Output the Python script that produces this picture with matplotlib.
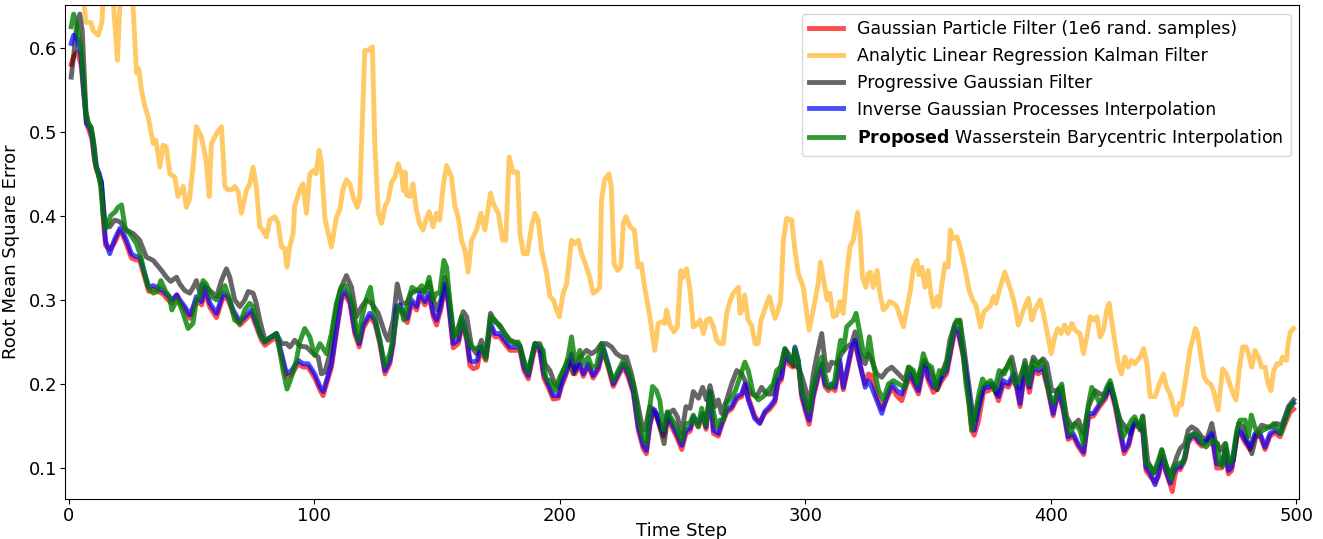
import numpy as np
import matplotlib
matplotlib.use("Agg")
import matplotlib.pyplot as plt

# values as (time step, RMSE) key points
gpf = [(1, 0.58), (2, 0.59), (3.5, 0.595), (5, 0.58), (6, 0.55), (7.2, 0.51), (8.5, 0.5), (9.5, 0.49),
       (10.5, 0.465), (11.3, 0.455), (12.5, 0.445), (13.3, 0.435), (14.2, 0.39), (15, 0.365), (16.7, 0.36),
       (18.7, 0.368), (20.8, 0.382), (22, 0.377), (23.5, 0.366), (25.5, 0.35), (27, 0.348), (28.9, 0.347),
       (31, 0.326), (32.6, 0.31), (34.4, 0.313), (36.4, 0.31), (38.4, 0.307), (40.4, 0.3), (42.1, 0.296),
       (44, 0.306), (45.2, 0.298), (47.3, 0.288), (49.3, 0.278), (50.7, 0.288), (52, 0.3), (54.1, 0.294),
       (55.4, 0.31), (57.5, 0.291), (60.2, 0.279), (62.9, 0.304), (64.9, 0.3), (67, 0.284), (69.7, 0.27),
       (71.7, 0.276), (74.4, 0.284), (76.4, 0.268), (78.5, 0.252), (79.9, 0.246), (82.6, 0.252), (84.6, 0.256),
       (86.7, 0.232), (88.7, 0.208), (90.7, 0.211), (93.5, 0.224), (95.5, 0.22), (97.5, 0.22), (100.2, 0.207),
       (102.3, 0.193), (103.6, 0.186), (105, 0.2), (107, 0.22), (109, 0.26), (111.1, 0.3), (112.4, 0.307),
       (114.5, 0.296), (116.5, 0.26), (118.3, 0.244), (119.9, 0.266), (122.6, 0.28), (124.7, 0.272),
       (126.7, 0.248), (128.8, 0.212), (130.8, 0.224), (132.2, 0.248), (133.5, 0.288), (134.9, 0.29),
       (136.2, 0.282), (137.9, 0.273), (139.6, 0.296), (141.7, 0.288), (143, 0.304), (145.1, 0.294),
       (146.8, 0.304), (148.5, 0.28), (149.8, 0.27), (151.5, 0.288), (153.2, 0.315), (154.6, 0.296),
       (156.6, 0.243), (158.7, 0.248), (160.4, 0.272), (162.1, 0.252), (163.4, 0.222), (164.8, 0.218),
       (166.4, 0.22), (167.7, 0.24), (169.9, 0.228), (171.8, 0.268), (173.6, 0.256), (175.6, 0.256),
       (177.6, 0.248), (179.7, 0.24), (181.7, 0.24), (183.8, 0.24), (185.4, 0.216), (187.2, 0.206),
       (189.9, 0.244), (191.9, 0.238), (193.5, 0.207), (195.3, 0.196), (197.3, 0.182), (199.4, 0.183),
       (200.7, 0.197), (202.8, 0.213), (204.8, 0.234), (206.2, 0.212), (208.2, 0.222), (209.6, 0.209),
       (211.6, 0.222), (213.6, 0.207), (215.7, 0.217), (217.7, 0.24), (219.7, 0.22), (221.8, 0.197),
       (223.8, 0.209), (225.9, 0.221), (227.9, 0.208), (230, 0.188), (232, 0.145), (234, 0.123),
       (235.3, 0.117), (236.7, 0.15), (238, 0.166), (239.4, 0.162), (240.8, 0.149), (242.3, 0.138),
       (243.8, 0.161), (245.6, 0.149), (247.6, 0.137), (249.7, 0.122), (251.4, 0.141), (253.1, 0.144),
       (254.4, 0.158), (256.5, 0.149), (258.2, 0.162), (259.6, 0.146), (261.2, 0.188), (262.6, 0.141),
       (264.6, 0.138), (265.9, 0.15), (268, 0.166), (270, 0.17), (272.1, 0.182), (274.1, 0.185), (275.4, 0.197),
       (276.8, 0.184), (279.4, 0.162), (281.5, 0.154), (283.5, 0.165), (285.5, 0.17), (287.6, 0.178),
       (288.9, 0.2), (290.3, 0.205), (292, 0.236), (293.2, 0.224), (294.9, 0.22), (295.8, 0.24), (297.2, 0.224),
       (298.5, 0.185), (300.3, 0.165), (301.6, 0.152), (303.3, 0.184), (305.3, 0.208), (306.7, 0.22),
       (308, 0.197), (309.4, 0.192), (310.7, 0.196), (312.1, 0.192), (314.1, 0.224), (315.5, 0.193),
       (316.9, 0.212), (318.9, 0.24), (320.3, 0.248), (322.3, 0.222), (324.4, 0.2), (325.7, 0.212),
       (327.1, 0.21), (329.1, 0.186), (331.2, 0.17), (333.2, 0.182), (335.2, 0.196), (337.3, 0.186),
       (339.3, 0.18), (341.4, 0.2), (342.7, 0.208), (344.1, 0.2), (346.1, 0.188), (347.4, 0.208),
       (348.8, 0.22), (350.1, 0.204), (352.2, 0.19), (354.2, 0.196), (355.6, 0.204), (357.6, 0.212),
       (358.9, 0.232), (361, 0.264), (362.3, 0.26), (364.4, 0.232), (366.4, 0.186), (367.8, 0.145),
       (368.8, 0.139), (370.5, 0.155), (372.6, 0.19), (374.6, 0.192), (376.7, 0.196), (378.7, 0.18),
       (380.7, 0.2), (382.7, 0.196), (384.8, 0.208), (386.3, 0.192), (387.5, 0.173), (389.5, 0.215),
       (391.3, 0.19), (392.9, 0.215), (394.9, 0.212), (396.9, 0.216), (398.9, 0.192), (401, 0.162),
       (403, 0.19), (405, 0.17), (407.1, 0.134), (409.1, 0.138), (411.1, 0.126), (413.4, 0.116), (415.4, 0.16),
       (417.4, 0.162), (420.1, 0.174), (422.2, 0.182), (424.2, 0.196), (426.3, 0.172), (428.3, 0.14),
       (429.9, 0.117), (431.7, 0.126), (433.7, 0.15), (435.7, 0.15), (437.4, 0.146), (438.8, 0.097),
       (440.5, 0.09), (442.5, 0.083), (443.9, 0.09), (445.3, 0.11), (447, 0.094), (448.7, 0.08), (449.5, 0.072),
       (450.5, 0.09), (451.3, 0.098), (452.7, 0.098), (454.7, 0.11), (456, 0.13), (458.1, 0.138),
       (460.1, 0.13), (461.5, 0.126), (463.5, 0.13), (465.6, 0.138), (467.6, 0.1), (469.6, 0.1), (471, 0.118),
       (472.4, 0.093), (473.7, 0.097), (475.8, 0.137), (477.1, 0.142), (479.2, 0.13), (481.2, 0.122),
       (483.2, 0.138), (485.3, 0.138), (487.3, 0.122), (489.3, 0.138), (491.4, 0.142), (493.4, 0.137),
       (495.4, 0.152), (497.4, 0.166), (498.9, 0.17)]

alrkf = [(1, 0.70), (2, 0.72), (4, 0.68), (6, 0.66), (7, 0.63), (9, 0.63), (10, 0.62), (12, 0.615),
         (13.5, 0.63), (14.5, 0.68), (17, 0.70), (18.5, 0.64), (19.8, 0.585), (20.8, 0.65), (22, 0.72),
         (24, 0.70), (26, 0.66), (27.6, 0.57), (28.5, 0.575), (29.6, 0.55), (31, 0.53), (32.3, 0.518),
         (34.4, 0.486), (35.5, 0.49), (37.1, 0.458), (38.4, 0.484), (39.7, 0.482), (41.2, 0.45),
         (43.2, 0.446), (44.5, 0.423), (46.6, 0.435), (47.9, 0.41), (49.2, 0.42), (50.6, 0.458),
         (52, 0.506), (54, 0.494), (56, 0.466), (57.2, 0.423), (58.1, 0.486), (60.2, 0.498), (62.2, 0.506),
         (63.6, 0.435), (64.9, 0.431), (66.3, 0.431), (67.6, 0.435), (69, 0.429), (70.3, 0.403),
         (72.4, 0.431), (73.7, 0.438), (75.1, 0.458), (76.4, 0.435), (77.8, 0.387), (79.1, 0.383),
         (80.5, 0.375), (81.9, 0.395), (83.9, 0.399), (85.3, 0.391), (86.6, 0.363), (88, 0.361),
         (88.9, 0.339), (90, 0.363), (91.4, 0.379), (92, 0.411), (94.1, 0.431), (95.4, 0.438), (96.8, 0.403),
         (98.2, 0.45), (99.6, 0.454), (100.7, 0.45), (102, 0.478), (102.9, 0.462), (104.3, 0.398),
         (105.7, 0.379), (107, 0.363), (109, 0.398), (110.4, 0.407), (111.7, 0.431), (113.1, 0.443),
         (114.5, 0.438), (115.8, 0.423), (117.5, 0.41), (118.5, 0.42), (120.6, 0.597), (122, 0.597),
         (123.7, 0.601), (124.6, 0.49), (126.1, 0.403), (127.4, 0.391), (128.8, 0.411), (130.1, 0.419),
         (131.5, 0.44), (132.9, 0.446), (134.2, 0.462), (135.6, 0.45), (136.3, 0.43), (137, 0.452),
         (137.6, 0.425), (139, 0.423), (140.2, 0.438), (141.6, 0.407), (142.9, 0.391), (144.3, 0.383),
         (145.5, 0.395), (146.8, 0.405), (148.4, 0.387), (149.8, 0.403), (151.1, 0.395), (152.5, 0.435),
         (153.9, 0.46), (155.9, 0.446), (157.3, 0.411), (158.6, 0.399), (160, 0.371), (161.4, 0.359),
         (162.7, 0.333), (164.1, 0.371), (166.1, 0.383), (167.9, 0.403), (169.5, 0.383), (171.8, 0.427),
         (172.9, 0.415), (175, 0.403), (176.7, 0.371), (178, 0.371), (179.4, 0.47), (181, 0.452),
         (182.8, 0.452), (183.8, 0.379), (185.2, 0.355), (186.8, 0.355), (188.5, 0.387), (189.9, 0.403),
         (191.2, 0.395), (192.6, 0.359), (194.7, 0.331), (196, 0.304), (197.4, 0.3), (198.7, 0.288),
         (199.8, 0.28), (201.4, 0.308), (202.8, 0.319), (204.8, 0.371), (206.2, 0.367), (207.6, 0.371),
         (208.9, 0.355), (210.9, 0.339), (212.2, 0.327), (213.6, 0.308), (215.2, 0.311), (216.3, 0.315),
         (217, 0.419), (218.3, 0.443), (220, 0.45), (221, 0.435), (222.1, 0.343), (223.5, 0.335),
         (224.9, 0.339), (225.9, 0.391), (226.9, 0.399), (228.7, 0.387), (230.4, 0.383), (231.9, 0.339),
         (233.2, 0.343), (234.6, 0.315), (236.7, 0.28), (238.7, 0.24), (240.1, 0.272), (241.5, 0.274),
         (242.8, 0.272), (243.5, 0.288), (244.9, 0.27), (246.5, 0.262), (247.9, 0.268), (249.3, 0.335),
         (250.3, 0.327), (251.7, 0.337), (253.1, 0.311), (254.4, 0.268), (255.7, 0.27), (257.1, 0.276),
         (258.5, 0.26), (259.8, 0.276), (261.2, 0.278), (262.6, 0.268), (263.9, 0.252), (265.3, 0.248),
         (266.6, 0.248), (268, 0.284), (269.3, 0.298), (270.7, 0.308), (272.8, 0.315), (273.4, 0.284),
         (274.8, 0.29), (275.3, 0.306), (276.7, 0.276), (278.1, 0.27), (279.6, 0.248), (280.8, 0.248),
         (282, 0.276), (283.4, 0.288), (285.4, 0.304), (286.7, 0.288), (287.7, 0.278), (289, 0.288),
         (290, 0.3), (291.1, 0.371), (292.4, 0.397), (294.5, 0.395), (295.8, 0.359), (297.2, 0.331),
         (299.2, 0.315), (300.6, 0.284), (301.6, 0.264), (303, 0.284), (304.3, 0.304), (305.3, 0.32),
         (306.2, 0.345), (307.5, 0.323), (308.9, 0.3), (310, 0.308), (311.4, 0.28), (312.8, 0.282),
         (314.1, 0.298), (315.5, 0.284), (316.9, 0.331), (318.2, 0.363), (319.6, 0.371), (321.3, 0.404),
         (322.3, 0.379), (323.3, 0.327), (324.7, 0.315), (325.6, 0.331), (326.6, 0.333), (327.7, 0.315),
         (329.3, 0.335), (330.4, 0.308), (331.8, 0.288), (333.2, 0.292), (334.3, 0.298), (335.9, 0.296),
         (337.3, 0.292), (338.6, 0.28), (340, 0.268), (341.4, 0.29), (342.8, 0.311), (344.1, 0.339),
         (345.5, 0.347), (346.3, 0.33), (347.5, 0.339), (348.7, 0.315), (350.1, 0.335), (351.1, 0.308),
         (352.2, 0.292), (353.8, 0.304), (354.5, 0.292), (355.5, 0.315), (356.9, 0.343), (358.2, 0.339),
         (359.1, 0.383), (360.1, 0.373), (361.8, 0.375), (363.4, 0.359), (365.5, 0.331), (366.8, 0.311),
         (368.2, 0.3), (369.5, 0.294), (371.4, 0.268), (372.8, 0.286), (374.3, 0.29), (375.6, 0.294),
         (376.7, 0.304), (377.7, 0.296), (379, 0.311), (380.3, 0.323), (381.3, 0.333), (382.4, 0.323),
         (384.1, 0.308), (385.5, 0.292), (386.8, 0.27), (388.9, 0.288), (390.9, 0.302), (392.3, 0.276),
         (393.6, 0.288), (395.7, 0.3), (397, 0.284), (398.1, 0.268), (400.2, 0.236), (401.6, 0.256),
         (402.9, 0.266), (404.2, 0.26), (405.6, 0.27), (407, 0.26), (408.6, 0.272), (409.9, 0.264),
         (411.9, 0.26), (413.3, 0.236), (414.7, 0.256), (416.1, 0.28), (417.4, 0.276), (418.8, 0.28),
         (420.1, 0.256), (421.5, 0.264), (422.8, 0.288), (423.8, 0.296), (425.6, 0.26), (427.5, 0.224),
         (428.8, 0.212), (430.2, 0.232), (431.5, 0.22), (432.9, 0.228), (434.2, 0.224), (436.4, 0.232),
         (437.8, 0.242), (439.2, 0.224), (440.5, 0.185), (442.5, 0.185), (444.3, 0.2), (445.9, 0.212),
         (447.2, 0.196), (448.6, 0.188), (450, 0.173), (451, 0.163), (452.4, 0.177), (453.3, 0.175),
         (455.3, 0.212), (456.7, 0.24), (458.9, 0.266), (459.8, 0.26), (461.2, 0.232), (462.5, 0.208),
         (463.9, 0.202), (465.1, 0.2), (466.3, 0.192), (468.2, 0.169), (469.2, 0.196), (470, 0.218),
         (471.6, 0.212), (472.9, 0.2), (474.3, 0.188), (475.5, 0.181), (476.9, 0.22), (478.2, 0.244),
         (479.6, 0.244), (480.5, 0.236), (481.9, 0.22), (483.2, 0.24), (484.6, 0.232), (485.9, 0.22),
         (487.3, 0.22), (488.5, 0.2), (489.7, 0.192), (490.8, 0.216), (492.2, 0.224), (493.5, 0.224),
         (494.4, 0.232), (496, 0.228), (496.7, 0.248), (497.6, 0.262), (498.9, 0.266)]

pgf = [(1, 0.565), (2, 0.59), (3, 0.62), (4.5, 0.64), (5.5, 0.62), (7, 0.525), (8, 0.51), (9.2, 0.505),
       (10.5, 0.48), (11.3, 0.458), (12.5, 0.445), (13.3, 0.44), (14.5, 0.40), (15.5, 0.387), (16.7, 0.387),
       (18.7, 0.395), (20.8, 0.393), (23.5, 0.383), (26.2, 0.379), (28.9, 0.371), (31.6, 0.351),
       (34.4, 0.347), (37.8, 0.335), (39.8, 0.327), (41.5, 0.322), (43.9, 0.327), (45.2, 0.319),
       (47.3, 0.311), (49.3, 0.308), (50.7, 0.315), (52, 0.323), (53.4, 0.308), (54.7, 0.319), (57.5, 0.311),
       (60.2, 0.304), (62.2, 0.323), (64.2, 0.337), (65.6, 0.327), (67.6, 0.3), (69.7, 0.292), (71.7, 0.3),
       (73.1, 0.31), (75.1, 0.308), (76.4, 0.296), (77.8, 0.276), (79.9, 0.252), (82.6, 0.256), (84.6, 0.26),
       (86.7, 0.248), (88.7, 0.248), (90.1, 0.244), (92.1, 0.252), (94.1, 0.245), (96.8, 0.244),
       (99.6, 0.236), (101.6, 0.232), (102.9, 0.212), (104.3, 0.214), (106.4, 0.236), (108.4, 0.28),
       (110.4, 0.311), (113.1, 0.329), (115.2, 0.315), (117.2, 0.28), (119.3, 0.292), (121.3, 0.3),
       (123.3, 0.296), (126.1, 0.284), (128.8, 0.26), (130.1, 0.252), (132.2, 0.276), (133.8, 0.319),
       (135.6, 0.296), (137.6, 0.296), (139.6, 0.308), (141.7, 0.311), (143, 0.311), (145.1, 0.311),
       (146.8, 0.321), (148.5, 0.3), (150.1, 0.288), (151.5, 0.3), (153.2, 0.327), (154.6, 0.308),
       (156.9, 0.256), (158.7, 0.268), (160.7, 0.286), (162.1, 0.28), (164.1, 0.244), (166.1, 0.236),
       (168.1, 0.252), (169.9, 0.236), (171.8, 0.284), (173.6, 0.274), (175.6, 0.27), (177.6, 0.26),
       (179.7, 0.252), (181.7, 0.25), (183.8, 0.246), (185.8, 0.224), (187.2, 0.216), (189.9, 0.248),
       (191.9, 0.248), (194, 0.224), (196, 0.216), (198, 0.2), (199.4, 0.196), (201.4, 0.216), (203.5, 0.228),
       (205.5, 0.212), (208.2, 0.232), (210.9, 0.24), (213, 0.236), (215, 0.24), (217, 0.248), (219, 0.248),
       (221.1, 0.244), (223.1, 0.236), (225.2, 0.232), (227.2, 0.232), (229.2, 0.212), (231.2, 0.185),
       (233.3, 0.153), (234.6, 0.145), (236.7, 0.173), (238.7, 0.169), (240.8, 0.149), (242.5, 0.129),
       (244.2, 0.165), (246.3, 0.169), (247.9, 0.161), (249.7, 0.141), (251.4, 0.173), (253.1, 0.171),
       (254.4, 0.191), (256.5, 0.183), (258.2, 0.196), (259.8, 0.181), (261.2, 0.198), (263.2, 0.173),
       (264.6, 0.181), (265.9, 0.165), (268, 0.181), (270, 0.2), (272.1, 0.216), (274.1, 0.212), (276.1, 0.2),
       (278.2, 0.188), (280.2, 0.185), (282.2, 0.196), (284.3, 0.188), (286.3, 0.188), (287.7, 0.204),
       (289.7, 0.216), (291.7, 0.242), (293.1, 0.236), (295.2, 0.222), (297.2, 0.22), (298.5, 0.21),
       (300.3, 0.192), (301.6, 0.173), (303.3, 0.212), (304.9, 0.236), (306.7, 0.26), (308, 0.228),
       (309.4, 0.216), (310.7, 0.226), (312.8, 0.224), (314.8, 0.236), (316.9, 0.244), (318.9, 0.248),
       (320.3, 0.262), (322.3, 0.236), (324.4, 0.224), (325.7, 0.236), (327.1, 0.228), (329.1, 0.212),
       (331.2, 0.208), (333.2, 0.216), (335.2, 0.22), (337.3, 0.214), (339.3, 0.208), (340.6, 0.204),
       (342, 0.22), (344.1, 0.212), (345.4, 0.2), (346.8, 0.216), (348.4, 0.228), (350.2, 0.22),
       (352.2, 0.208), (353.8, 0.193), (355.6, 0.212), (357.6, 0.228), (358.9, 0.252), (361, 0.272),
       (363, 0.276), (364.6, 0.244), (366.4, 0.204), (367.8, 0.173), (369.2, 0.157), (370.5, 0.177),
       (372.3, 0.193), (373.9, 0.2), (375.9, 0.2), (378, 0.188), (380, 0.212), (382.1, 0.22), (384.1, 0.232),
       (386.2, 0.204), (387.3, 0.195), (389.5, 0.228), (390.9, 0.208), (392.9, 0.232), (394.9, 0.224),
       (396.9, 0.23), (398.4, 0.224), (400.4, 0.192), (402.4, 0.192), (404.5, 0.196), (406.5, 0.161),
       (408.6, 0.149), (411.3, 0.157), (413.3, 0.141), (415.4, 0.173), (418.1, 0.192), (420.1, 0.188),
       (422.2, 0.188), (424.2, 0.2), (426.3, 0.177), (428.3, 0.157), (430.3, 0.149), (432.4, 0.141),
       (434.4, 0.157), (436.4, 0.145), (437.5, 0.162), (439.5, 0.108), (441.9, 0.094), (443.9, 0.105),
       (445.3, 0.121), (447.3, 0.101), (448.7, 0.094), (450, 0.101), (451.3, 0.113), (452.7, 0.123),
       (454.7, 0.129), (456, 0.145), (457.4, 0.149), (459.5, 0.145), (461.5, 0.137), (463.5, 0.133),
       (465.6, 0.153), (466.9, 0.133), (469, 0.121), (471, 0.129), (472.4, 0.106), (474.4, 0.109),
       (476.5, 0.153), (478.5, 0.149), (479.9, 0.133), (481.9, 0.117), (483.9, 0.141), (485.9, 0.151),
       (488, 0.149), (490, 0.149), (492, 0.153), (494.1, 0.151), (495.4, 0.161), (496.8, 0.173),
       (498.9, 0.181)]

igpi = [(1, 0.605), (2, 0.615), (3.5, 0.61), (5, 0.59), (6, 0.55), (7.2, 0.51), (8.5, 0.505), (9.5, 0.495),
        (10.5, 0.47), (11.3, 0.458), (12.5, 0.45), (13.3, 0.44), (14.2, 0.40), (15, 0.37), (16.7, 0.355),
        (18.7, 0.372), (20.8, 0.385), (22, 0.38), (23.5, 0.371), (25.5, 0.355), (27, 0.352), (28.9, 0.351),
        (31, 0.331), (32.6, 0.315), (34.4, 0.317), (36.4, 0.314), (38.4, 0.311), (40.4, 0.305), (42.1, 0.3),
        (44, 0.306), (45.2, 0.3), (47.3, 0.292), (49.3, 0.282), (50.7, 0.292), (52, 0.304), (54.1, 0.298),
        (55.4, 0.315), (57.5, 0.296), (60.2, 0.284), (62.9, 0.308), (64.9, 0.304), (67, 0.288), (69.7, 0.274),
        (71.7, 0.28), (74.4, 0.288), (76.4, 0.272), (78.5, 0.256), (79.9, 0.25), (82.6, 0.256), (84.6, 0.26),
        (86.7, 0.236), (88.7, 0.212), (90.7, 0.216), (93.5, 0.228), (95.5, 0.224), (97.5, 0.224),
        (100.2, 0.212), (102.3, 0.197), (103.6, 0.191), (105, 0.204), (107, 0.224), (109, 0.264),
        (111.1, 0.304), (112.4, 0.311), (114.5, 0.3), (116.5, 0.264), (118.3, 0.248), (119.9, 0.27),
        (122.6, 0.284), (124.7, 0.276), (126.7, 0.252), (128.8, 0.216), (130.8, 0.228), (132.2, 0.252),
        (133.5, 0.292), (134.9, 0.294), (136.2, 0.286), (137.9, 0.278), (139.6, 0.3), (141.7, 0.292),
        (143, 0.308), (145.1, 0.298), (146.8, 0.308), (148.5, 0.284), (149.8, 0.276), (151.5, 0.292),
        (153.2, 0.319), (154.6, 0.3), (156.6, 0.248), (158.7, 0.252), (160.4, 0.276), (162.1, 0.256),
        (163.4, 0.228), (164.8, 0.226), (166.4, 0.228), (167.7, 0.244), (169.9, 0.232), (171.8, 0.272),
        (173.6, 0.26), (175.6, 0.26), (177.6, 0.252), (179.7, 0.244), (181.7, 0.244), (183.8, 0.244),
        (185.4, 0.22), (187.2, 0.21), (189.9, 0.248), (191.9, 0.242), (193.5, 0.212), (195.3, 0.2),
        (197.3, 0.186), (199.4, 0.186), (200.7, 0.2), (202.8, 0.216), (204.8, 0.236), (206.2, 0.216),
        (208.2, 0.224), (209.6, 0.212), (211.6, 0.224), (213.6, 0.21), (215.7, 0.22), (217.7, 0.244),
        (219.7, 0.224), (221.8, 0.2), (223.8, 0.212), (225.9, 0.224), (227.9, 0.212), (230, 0.192),
        (232, 0.149), (234, 0.127), (235.3, 0.121), (236.7, 0.153), (238, 0.169), (239.4, 0.165),
        (240.8, 0.153), (242.3, 0.143), (243.8, 0.165), (245.6, 0.153), (247.6, 0.141), (249.7, 0.127),
        (251.4, 0.145), (253.1, 0.147), (254.4, 0.161), (256.5, 0.153), (258.2, 0.165), (259.6, 0.149),
        (261.2, 0.191), (262.6, 0.145), (264.6, 0.141), (265.9, 0.153), (268, 0.169), (270, 0.173),
        (272.1, 0.185), (274.1, 0.188), (275.4, 0.2), (276.8, 0.181), (279.4, 0.159), (281.5, 0.153),
        (283.5, 0.167), (285.5, 0.173), (287.6, 0.181), (288.9, 0.204), (290.3, 0.208), (292, 0.24),
        (293.2, 0.228), (294.9, 0.224), (295.8, 0.244), (297.2, 0.228), (298.5, 0.189), (300.3, 0.169),
        (301.6, 0.157), (303.3, 0.188), (305.3, 0.212), (306.7, 0.224), (308, 0.2), (309.4, 0.196),
        (310.7, 0.2), (312.1, 0.196), (314.1, 0.228), (315.5, 0.196), (316.9, 0.216), (318.9, 0.244),
        (320.3, 0.252), (322.3, 0.224), (324.4, 0.196), (325.7, 0.204), (327.1, 0.196), (329.1, 0.181),
        (331.2, 0.165), (333.2, 0.185), (335.2, 0.2), (337.3, 0.192), (339.3, 0.188), (341.4, 0.204),
        (342.7, 0.212), (344.1, 0.204), (346.1, 0.192), (347.4, 0.212), (348.8, 0.224), (350.1, 0.208),
        (352.2, 0.196), (354.2, 0.2), (355.6, 0.208), (357.6, 0.216), (358.9, 0.236), (361, 0.268),
        (362.3, 0.264), (364.4, 0.236), (366.4, 0.193), (367.8, 0.157), (368.8, 0.145), (370.5, 0.169),
        (372.6, 0.196), (374.6, 0.196), (376.7, 0.2), (378.7, 0.185), (380.7, 0.204), (382.7, 0.2),
        (384.8, 0.212), (386.3, 0.196), (387.5, 0.177), (389.5, 0.22), (391.3, 0.196), (392.9, 0.22),
        (394.9, 0.216), (396.9, 0.22), (398.9, 0.196), (401, 0.165), (403, 0.193), (405, 0.173),
        (407.1, 0.137), (409.1, 0.141), (411.1, 0.129), (413.4, 0.119), (415.4, 0.165), (417.4, 0.165),
        (420.1, 0.177), (422.2, 0.185), (424.2, 0.2), (426.3, 0.177), (428.3, 0.145), (429.9, 0.121),
        (431.7, 0.129), (433.7, 0.153), (435.7, 0.153), (437.4, 0.15), (438.8, 0.101), (440.5, 0.094),
        (442.5, 0.08), (443.9, 0.094), (445.3, 0.113), (447, 0.097), (448.7, 0.082), (450, 0.094),
        (451.3, 0.101), (452.7, 0.101), (454.7, 0.113), (456, 0.133), (458.1, 0.141), (460.1, 0.133),
        (461.5, 0.129), (463.5, 0.133), (465.6, 0.141), (467.6, 0.105), (469.6, 0.105), (471, 0.121),
        (472.4, 0.097), (473.7, 0.101), (475.8, 0.141), (477.1, 0.145), (479.2, 0.133), (481.2, 0.125),
        (483.2, 0.141), (485.3, 0.141), (487.3, 0.125), (489.3, 0.141), (491.4, 0.145), (493.4, 0.141),
        (495.4, 0.157), (497.4, 0.173), (498.9, 0.177)]

wbi = [(1, 0.625), (2, 0.64), (3, 0.63), (5, 0.6), (7, 0.52), (8, 0.51), (9, 0.505), (10, 0.49), (11, 0.46),
       (12, 0.45), (13, 0.435), (14, 0.4), (15, 0.385), (16, 0.39), (17, 0.4), (19, 0.405), (20, 0.41),
       (21.5, 0.413), (23, 0.385), (25, 0.378), (27.6, 0.367), (29.5, 0.35), (31, 0.33), (32.3, 0.315),
       (34.4, 0.308), (36, 0.31), (37.5, 0.323), (39.5, 0.31), (41, 0.304), (42, 0.288), (44, 0.3),
       (45, 0.296), (46.6, 0.284), (48.6, 0.266), (50.6, 0.272), (52, 0.3), (53.3, 0.304), (54.7, 0.323),
       (56, 0.319), (58.1, 0.304), (60.2, 0.3), (62.2, 0.311), (63.6, 0.317), (65.6, 0.3), (67.6, 0.276),
       (69.7, 0.272), (71.7, 0.288), (73.7, 0.296), (75.1, 0.292), (76.4, 0.276), (77.8, 0.26), (79.8, 0.25),
       (82.5, 0.256), (84.6, 0.26), (85.9, 0.24), (87.3, 0.216), (88.9, 0.194), (90.7, 0.208), (92.7, 0.228),
       (94.1, 0.25), (96.1, 0.266), (98.2, 0.256), (100.2, 0.234), (102.3, 0.248), (105, 0.236), (107, 0.26),
       (109, 0.296), (111.1, 0.315), (113.1, 0.317), (115.8, 0.292), (117.9, 0.252), (119.2, 0.276),
       (121.3, 0.302), (122.9, 0.315), (124.3, 0.286), (126.7, 0.252), (128.8, 0.222), (130.8, 0.236),
       (132.2, 0.256), (134.2, 0.292), (135.6, 0.288), (136.5, 0.276), (138.5, 0.302), (139.8, 0.315),
       (141.8, 0.311), (143.8, 0.317), (145, 0.308), (146.8, 0.327), (148.4, 0.3), (149.8, 0.308),
       (151.1, 0.308), (152.8, 0.347), (153.9, 0.339), (155.2, 0.3), (156.9, 0.256), (158.6, 0.26),
       (160, 0.28), (162.1, 0.256), (164.1, 0.244), (166.1, 0.242), (168.1, 0.244), (169.9, 0.23),
       (171.8, 0.28), (173.6, 0.276), (175.6, 0.268), (177.6, 0.26), (179.6, 0.252), (181.7, 0.248),
       (183.1, 0.25), (185.2, 0.228), (187.2, 0.214), (189.9, 0.248), (191.9, 0.245), (193.3, 0.24),
       (194.3, 0.206), (196, 0.204), (198, 0.192), (200, 0.208), (202.1, 0.22), (203.4, 0.232),
       (204.8, 0.256), (206.2, 0.226), (208.2, 0.24), (209.6, 0.224), (211.6, 0.232), (213, 0.22),
       (215, 0.222), (217, 0.248), (219, 0.228), (221.8, 0.204), (223.8, 0.216), (225.9, 0.228),
       (227.9, 0.216), (230, 0.2), (232.1, 0.161), (233.5, 0.141), (235.2, 0.129), (236.5, 0.169),
       (237.8, 0.197), (239.4, 0.192), (240.8, 0.18), (242.2, 0.145), (243.8, 0.167), (245.5, 0.159),
       (247.6, 0.149), (249.6, 0.133), (251.4, 0.153), (253, 0.153), (254.4, 0.163), (256.4, 0.149),
       (257.8, 0.171), (259.5, 0.151), (261.2, 0.191), (262.6, 0.167), (263.9, 0.149), (265.3, 0.157),
       (266.6, 0.157), (268, 0.177), (269.6, 0.183), (271.4, 0.191), (273.4, 0.208), (275.4, 0.226),
       (276.8, 0.216), (278.8, 0.189), (280.9, 0.181), (282.9, 0.185), (285, 0.193), (287, 0.2),
       (288.3, 0.216), (290, 0.22), (291.7, 0.242), (293, 0.234), (294.9, 0.224), (295.8, 0.242),
       (297.2, 0.226), (298.5, 0.193), (300.6, 0.177), (301.6, 0.167), (303.3, 0.197), (305.3, 0.22),
       (306.7, 0.232), (308, 0.212), (309.4, 0.196), (310.7, 0.196), (312, 0.204), (313.5, 0.236),
       (314.4, 0.252), (315.5, 0.24), (316.9, 0.268), (318.3, 0.272), (319.6, 0.276), (320.7, 0.284),
       (322.3, 0.26), (323.7, 0.236), (325, 0.232), (326.1, 0.256), (327.7, 0.224), (329.8, 0.193),
       (331.8, 0.181), (333.9, 0.2), (335.9, 0.204), (338, 0.2), (340.6, 0.196), (342.3, 0.22),
       (344.1, 0.216), (345.5, 0.2), (346.8, 0.216), (348.1, 0.236), (349.5, 0.224), (351.5, 0.22),
       (353.3, 0.196), (354.6, 0.216), (356.2, 0.212), (357.6, 0.224), (359, 0.244), (360.3, 0.264),
       (361.7, 0.276), (363, 0.274), (364, 0.244), (365.5, 0.2), (366.8, 0.173), (367.8, 0.145),
       (369.5, 0.169), (370.8, 0.189), (372.2, 0.206), (373.5, 0.2), (375.6, 0.204), (377.1, 0.193),
       (379, 0.216), (381.1, 0.212), (383.4, 0.228), (385.4, 0.2), (387.5, 0.208), (389.5, 0.224),
       (390.9, 0.2), (392.9, 0.228), (394.5, 0.22), (396.3, 0.228), (397.6, 0.22), (399.4, 0.188),
       (401.1, 0.177), (402.9, 0.193), (404.5, 0.2), (405.8, 0.165), (407.9, 0.141), (409.9, 0.153),
       (411.9, 0.145), (413.3, 0.129), (415.4, 0.177), (416.7, 0.196), (418.1, 0.188), (419.9, 0.177),
       (421.5, 0.185), (422.8, 0.196), (424.2, 0.204), (426.2, 0.181), (428.2, 0.153), (429.5, 0.137),
       (430.9, 0.145), (432.9, 0.157), (434.2, 0.161), (435.9, 0.149), (437.4, 0.161), (438.8, 0.106),
       (440.5, 0.102), (441.9, 0.094), (443.9, 0.11), (445.2, 0.122), (446.6, 0.106), (448, 0.094),
       (449.3, 0.086), (450, 0.102), (451.3, 0.104), (452.6, 0.106), (454, 0.106), (456, 0.137),
       (458.9, 0.141), (460.5, 0.137), (461.9, 0.129), (463.2, 0.125), (464.6, 0.129), (465.9, 0.133),
       (468, 0.129), (468.6, 0.106), (470, 0.102), (471.3, 0.129), (472.7, 0.106), (474, 0.11),
       (475.8, 0.145), (477.1, 0.157), (479.2, 0.157), (480.5, 0.137), (481.7, 0.163), (483.1, 0.149),
       (484.4, 0.141), (486.5, 0.145), (489.5, 0.149), (490.8, 0.153), (492.9, 0.145), (493.7, 0.141),
       (495.8, 0.161), (497.2, 0.171), (498.5, 0.177)]

labels = ["Gaussian Particle Filter (1e6 rand. samples)",
          "Analytic Linear Regression Kalman Filter",
          "Progressive Gaussian Filter",
          "Inverse Gaussian Processes Interpolation",
          r"$\bf{Proposed}$ Wasserstein Barycentric Interpolation"]

series = [gpf, alrkf, pgf, igpi, wbi]
styles = [("red", 0.7), ("orange", 0.6), ("black", 0.6), ("blue", 0.7), ("green", 0.8)]

fig = plt.figure(figsize=(13.23, 5.39), dpi=100)
ax = fig.add_axes([0.049, 0.074, 0.933, 0.917])

for pts, lab, (c, a) in zip(series, labels, styles):
    t, v = np.array(pts).T
    ax.plot(t, v, color=c, alpha=a, lw=3.5, label=lab)

ax.set_xlim(-1.6, 501.2)
ax.set_ylim(0.063, 0.651)
ax.set_xlabel("Time Step", fontsize=13, labelpad=-2)
ax.set_ylabel("Root Mean Square Error", fontsize=13, labelpad=6)
ax.tick_params(labelsize=13, pad=2)
ax.legend(loc="upper right", fontsize=12.5)

fig.savefig("out.png")
